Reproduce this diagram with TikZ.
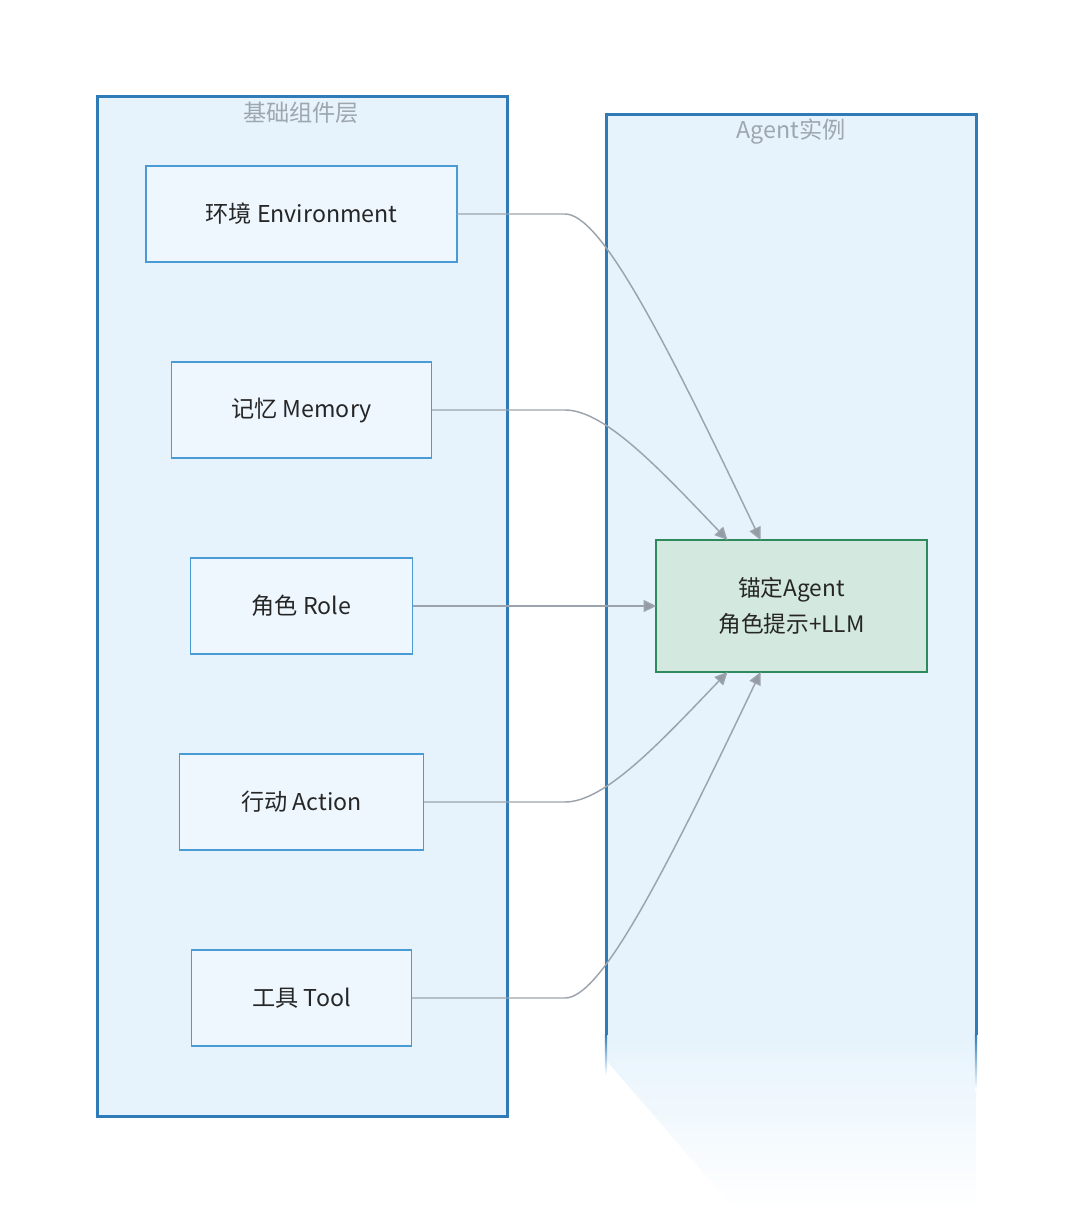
\documentclass[tikz,border=0pt]{standalone}
\usepackage{fontspec}
\setmainfont{Noto Sans CJK SC}
\usetikzlibrary{arrows.meta,positioning,calc}
\definecolor{clfill}{HTML}{E6F3FC}
\definecolor{clline}{HTML}{2F7BB8}
\definecolor{cltext}{HTML}{9EA6AE}
\definecolor{ndfill}{HTML}{EEF7FE}
\definecolor{ndline}{HTML}{4A9BD5}
\definecolor{agfill}{HTML}{D3E8DE}
\definecolor{agline}{HTML}{2E8A5C}
\definecolor{edgecol}{HTML}{9BA4AD}
\definecolor{tipfill}{HTML}{959BA3}
\definecolor{txt}{HTML}{262626}
\tikzset{
  cluster/.style = {draw=clline, fill=clfill, line width=2.25pt},
  cltitle/.style = {text=cltext, font=\fontsize{17.4}{20}\selectfont, inner sep=0pt},
  comp/.style    = {draw=ndline, fill=ndfill, line width=1.1pt, minimum height=72pt,
                    inner sep=0pt, outer sep=0pt, text=txt,
                    font=\fontsize{17.4}{20}\selectfont},
  agentbox/.style= {draw=agline, fill=agfill, line width=1.1pt, minimum width=203pt,
                    minimum height=99pt, align=center, outer sep=0pt, text=txt,
                    font=\fontsize{17}{27}\selectfont},
  edge/.style    = {draw=edgecol, line width=1.1pt,
                    -{Triangle[length=9.5pt,width=9pt,fill=tipfill]}},
}
\begin{document}
\begin{tikzpicture}[x=0.75pt, y=-0.75pt, node distance=75pt]
\useasboundingbox (0,0) rectangle (1072,1212);
% clusters
\draw[cluster] (97,97) rectangle (507,1116);
\fill[clfill] (606,115) rectangle (976,1035);
\shade[top color=clfill, bottom color=white, draw=none]
  (606,1034) -- (976,1034) -- (976,1210) -- (735,1210) -- (606,1060) -- cycle;
\draw[clline, line width=2.25pt] (606,1035) -- (606,115) -- (976,115) -- (976,1035);
\shade[top color=clline, bottom color=white] (604.9,1034) rectangle (607.1,1075);
\shade[top color=clline, bottom color=white] (974.9,1034) rectangle (977.1,1090);
\node[cltitle] (ltitle) at (301,113) {基础组件层};
\node[cltitle] (rtitle) at (791,132) {Agent实例};
% components
\node[comp, minimum width=233pt] (env) at (301.5,214) {环境 Environment};
\node[comp, minimum width=195pt, below=of env] (mem) {记忆 Memory};
\node[comp, minimum width=166.5pt, below=of mem] (role) {角色 Role};
\node[comp, minimum width=183pt, below=of role] (act) {行动 Action};
\node[comp, minimum width=165pt, below=of act] (tool) {工具 Tool};
\node[agentbox] (agent) at (791.5,606) {锚定Agent\\角色提示+LLM};
% edges
\coordinate (split) at (565,0);
\draw[edge] (env.east) -- (env.east -| split)
  .. controls +(35,0) and +(-100,-210) .. ($(agent.north)+(-31,0)$);
\draw[edge] (mem.east) -- (mem.east -| split)
  .. controls +(40,0) and +(-67,-70) .. ($(agent.north)+(-64,0)$);
\draw[edge] (role) -- (agent);
\draw[edge] (act.east) -- (act.east -| split)
  .. controls +(40,0) and +(-67,70) .. ($(agent.south)+(-64,0)$);
\draw[edge] (tool.east) -- (tool.east -| split)
  .. controls +(35,0) and +(-100,210) .. ($(agent.south)+(-31,0)$);
\end{tikzpicture}
\end{document}
